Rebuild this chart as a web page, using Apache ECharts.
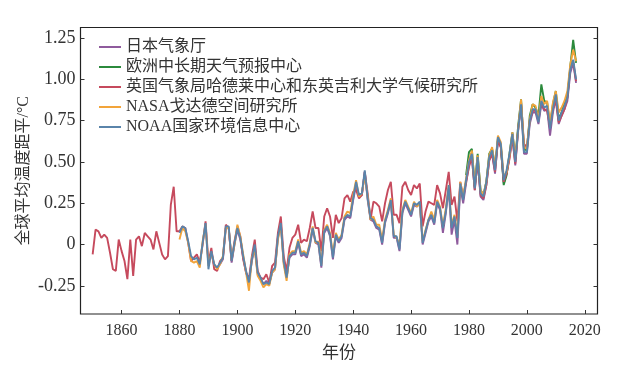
<!DOCTYPE html>
<html><head><meta charset="utf-8">
<script src="https://cdn.jsdelivr.net/npm/echarts@6/dist/echarts.min.js"></script>
<style>html,body{margin:0;padding:0;background:#fff}#c{width:635px;height:367px}</style>
</head><body><div id="c"></div>
<script>
const seriesNames = ['日本气象厅', '欧洲中长期天气预报中心', '英国气象局哈德莱中心和东英吉利大学气候研究所', 'NASA戈达德空间研究所', 'NOAA国家环境信息中心'];
const xTickYears = [1860, 1880, 1900, 1920, 1940, 1960, 1980, 2000, 2020];
const yTickValues = [-0.25, 0, 0.25, 0.5, 0.75, 1.0, 1.25];

const jmaStart = 1891;
const jmaValues = [
  -0.05, -0.13, -0.14, -0.12, -0.09, 0.10, 0.10, -0.11, 0.00,
  0.09, 0.03, -0.08, -0.17, -0.22, -0.10, -0.02, -0.18, -0.21, -0.24,
  -0.22, -0.24, -0.17, -0.15, 0.04, 0.12, -0.11, -0.20, -0.08, -0.06,
  -0.06, 0.01, -0.07, -0.06, -0.08, -0.01, 0.09, 0.01, 0.00, -0.14,
  0.07, 0.10, 0.05, -0.09, 0.05, 0.01, 0.04, 0.15, 0.17, 0.16,
  0.27, 0.36, 0.29, 0.30, 0.44, 0.27, 0.15, 0.14, 0.10, 0.09,
  0.00, 0.13, 0.19, 0.26, 0.04, 0.04, -0.04, 0.19, 0.25, 0.21,
  0.17, 0.24, 0.23, 0.25, 0.00, 0.07, 0.14, 0.17, 0.12, 0.25,
  0.21, 0.07, 0.19, 0.34, 0.06, 0.15, 0.00, 0.35, 0.25, 0.37,
  0.48, 0.53, 0.33, 0.51, 0.29, 0.27, 0.36, 0.51, 0.55, 0.43,
  0.63, 0.59, 0.37, 0.43, 0.53, 0.65, 0.48, 0.69, 0.84, 0.55,
  0.55, 0.73, 0.80, 0.80, 0.73, 0.85, 0.81, 0.82, 0.66, 0.80,
  0.89, 0.73, 0.78, 0.82, 0.87, 1.04, 1.10, 0.98
];

const ecmwfStart = 1979;
const ecmwfValues = [
  0.42, 0.56, 0.58, 0.35, 0.55, 0.33, 0.30, 0.38, 0.55, 0.58, 0.47,
  0.64, 0.60, 0.36, 0.42, 0.55, 0.68, 0.52, 0.72, 0.88, 0.58,
  0.57, 0.78, 0.85, 0.83, 0.78, 0.97, 0.87, 0.86, 0.72, 0.85,
  0.93, 0.76, 0.80, 0.86, 0.90, 1.08, 1.24, 1.10
];

const hadStart = 1850;
const hadValues = [
  -0.06, 0.09, 0.08, 0.04, 0.06, 0.04, -0.05, -0.15, -0.16, 0.03,
  -0.04, -0.10, -0.21, 0.03, -0.19, 0.03, 0.05, -0.01, 0.07, 0.05,
  0.03, -0.03, 0.08, 0.01, -0.06, -0.09, -0.07, 0.24, 0.35, 0.08,
  0.08, 0.11, 0.10, 0.01, -0.10, -0.08, -0.06, -0.11, 0.00, 0.14,
  -0.11, -0.02, -0.15, -0.16, -0.10, -0.08, 0.12, 0.10, -0.10, 0.02,
  0.11, 0.05, -0.09, -0.17, -0.21, -0.07, 0.03, -0.16, -0.20, -0.21,
  -0.18, -0.23, -0.13, -0.11, 0.07, 0.17, -0.07, -0.16, -0.02, 0.04,
  0.06, 0.12, 0.01, 0.03, 0.02, 0.10, 0.20, 0.10, 0.10, -0.04,
  0.17, 0.22, 0.17, 0.04, 0.18, 0.13, 0.16, 0.28, 0.30, 0.26,
  0.32, 0.33, 0.28, 0.30, 0.44, 0.31, 0.15, 0.26, 0.25, 0.23,
  0.14, 0.25, 0.33, 0.38, 0.18, 0.18, 0.13, 0.35, 0.38, 0.33,
  0.30, 0.36, 0.34, 0.37, 0.11, 0.20, 0.26, 0.25, 0.24, 0.36,
  0.31, 0.22, 0.33, 0.44, 0.24, 0.29, 0.14, 0.38, 0.29, 0.38,
  0.47, 0.53, 0.33, 0.51, 0.30, 0.28, 0.36, 0.51, 0.55, 0.44,
  0.63, 0.59, 0.38, 0.43, 0.52, 0.65, 0.49, 0.70, 0.86, 0.61,
  0.59, 0.75, 0.81, 0.81, 0.76, 0.86, 0.82, 0.81, 0.71, 0.82,
  0.87, 0.74, 0.78, 0.82, 0.89, 1.07, 1.11, 0.99
];

const nasaStart = 1880;
const nasaValues = [
  0.03, 0.10, 0.08, 0.01, -0.10, -0.11, -0.10, -0.14, 0.02, 0.12,
  -0.13, -0.05, -0.12, -0.15, -0.12, -0.07, 0.10, 0.10, -0.09, 0.00,
  0.12, 0.05, -0.06, -0.17, -0.28, -0.08, -0.03, -0.19, -0.22, -0.26,
  -0.24, -0.25, -0.17, -0.15, 0.03, 0.12, -0.12, -0.22, -0.06, -0.04,
  -0.04, 0.03, -0.05, -0.04, -0.06, 0.01, 0.11, 0.01, 0.02, -0.12,
  0.09, 0.12, 0.07, -0.06, 0.07, 0.03, 0.06, 0.17, 0.20, 0.19,
  0.30, 0.39, 0.29, 0.31, 0.42, 0.29, 0.15, 0.17, 0.12, 0.12,
  0.03, 0.15, 0.21, 0.28, 0.06, 0.04, 0.00, 0.21, 0.27, 0.23,
  0.19, 0.26, 0.23, 0.25, 0.02, 0.09, 0.15, 0.20, 0.15, 0.27,
  0.23, 0.11, 0.22, 0.36, 0.12, 0.18, 0.06, 0.38, 0.29, 0.40,
  0.51, 0.57, 0.36, 0.54, 0.33, 0.30, 0.38, 0.54, 0.59, 0.47,
  0.66, 0.62, 0.41, 0.44, 0.54, 0.68, 0.53, 0.70, 0.88, 0.59,
  0.58, 0.76, 0.85, 0.84, 0.76, 0.90, 0.85, 0.87, 0.74, 0.86,
  0.93, 0.80, 0.83, 0.87, 0.93, 1.09, 1.18, 1.11
];

const noaaStart = 1880;
const noaaValues = [
  0.07, 0.11, 0.10, 0.02, -0.07, -0.09, -0.08, -0.12, 0.01, 0.13,
  -0.15, -0.04, -0.12, -0.14, -0.11, -0.08, 0.11, 0.11, -0.10, 0.01,
  0.10, 0.04, -0.07, -0.16, -0.23, -0.09, 0.00, -0.17, -0.20, -0.24,
  -0.23, -0.24, -0.16, -0.14, 0.05, 0.13, -0.10, -0.20, -0.07, -0.05,
  -0.05, 0.02, -0.06, -0.05, -0.07, 0.00, 0.10, 0.02, 0.01, -0.13,
  0.08, 0.11, 0.06, -0.08, 0.06, 0.02, 0.05, 0.16, 0.18, 0.17,
  0.28, 0.38, 0.30, 0.31, 0.45, 0.28, 0.16, 0.15, 0.11, 0.10,
  0.01, 0.14, 0.20, 0.27, 0.05, 0.05, -0.03, 0.20, 0.26, 0.22,
  0.18, 0.25, 0.24, 0.26, 0.01, 0.08, 0.15, 0.18, 0.13, 0.26,
  0.22, 0.10, 0.20, 0.36, 0.10, 0.17, 0.04, 0.37, 0.27, 0.39,
  0.50, 0.55, 0.34, 0.53, 0.31, 0.29, 0.38, 0.53, 0.57, 0.45,
  0.65, 0.61, 0.39, 0.45, 0.55, 0.67, 0.50, 0.70, 0.85, 0.56,
  0.56, 0.75, 0.82, 0.82, 0.74, 0.87, 0.83, 0.84, 0.70, 0.82,
  0.91, 0.75, 0.80, 0.84, 0.89, 1.06, 1.12, 1.00
];

const colors = ['#8f5b9d', '#2b8a3c', '#c64a5d', '#f2a43a', '#5a84aa'];
const starts = [jmaStart, ecmwfStart, hadStart, nasaStart, noaaStart];
const valueLists = [jmaValues, ecmwfValues, hadValues, nasaValues, noaaValues];

const serif = "'Liberation Serif', 'Noto Sans CJK SC', serif";
const chart = echarts.init(document.getElementById('c'), null, {renderer: 'canvas'});

const series = seriesNames.map((name, k) => ({
  name: name,
  type: 'line',
  showSymbol: false,
  symbol: 'none',
  data: valueLists[k].map((v, i) => [starts[k] + i, v]),
  lineStyle: {width: 1.9, color: colors[k]},
  itemStyle: {color: colors[k]},
  animation: false
}));

chart.setOption({
  animation: false,
  backgroundColor: '#fff',
  grid: {left: 80.5, right: 37.5, top: 27.5, bottom: 47.5, show: true, borderColor: '#222', borderWidth: 1.2},
  legend: {
    orient: 'vertical', left: 94, top: 34,
    itemWidth: 22, itemHeight: 2, itemGap: 4,
    icon: 'rect',
    textStyle: {fontFamily: serif, fontSize: 16, color: '#333', lineHeight: 16},
    data: seriesNames
  },
  xAxis: {
    type: 'value', min: 1845.8, max: 2024.4,
    name: '年份', nameLocation: 'middle', nameGap: 31, nameMoveOverlap: false,
    nameTextStyle: {fontFamily: serif, fontSize: 17, color: '#333'},
    axisLine: {show: false, onZero: false},
    splitLine: {show: false},
    axisTick: {show: true, inside: true, length: 4, lineStyle: {color: '#333'}, customValues: xTickYears},
    axisLabel: {fontFamily: serif, fontSize: 16, color: '#333', margin: 9, customValues: xTickYears, formatter: v => String(v)}
  },
  yAxis: [{
    type: 'value', min: -0.421, max: 1.315,
    name: '全球平均温度距平/°C', nameLocation: 'middle', nameGap: 49, nameRotate: 90, nameMoveOverlap: false,
    nameTextStyle: {fontFamily: serif, fontSize: 16, color: '#333'},
    axisLine: {show: false, onZero: false},
    splitLine: {show: false},
    axisTick: {show: true, inside: true, length: 4, lineStyle: {color: '#333'}, customValues: yTickValues},
    axisLabel: {fontFamily: serif, fontSize: 18, color: '#333', margin: 5, customValues: yTickValues,
      formatter: v => (Math.abs(v) < 1e-9 ? '0' : v.toFixed(2))}
  }, {
    type: 'value', min: -0.421, max: 1.315, position: 'right',
    axisLine: {show: false, onZero: false}, splitLine: {show: false},
    axisTick: {show: true, inside: true, length: 4, lineStyle: {color: '#333'}, customValues: yTickValues},
    axisLabel: {show: false}
  }],
  series: series
});
</script>
</body></html>
